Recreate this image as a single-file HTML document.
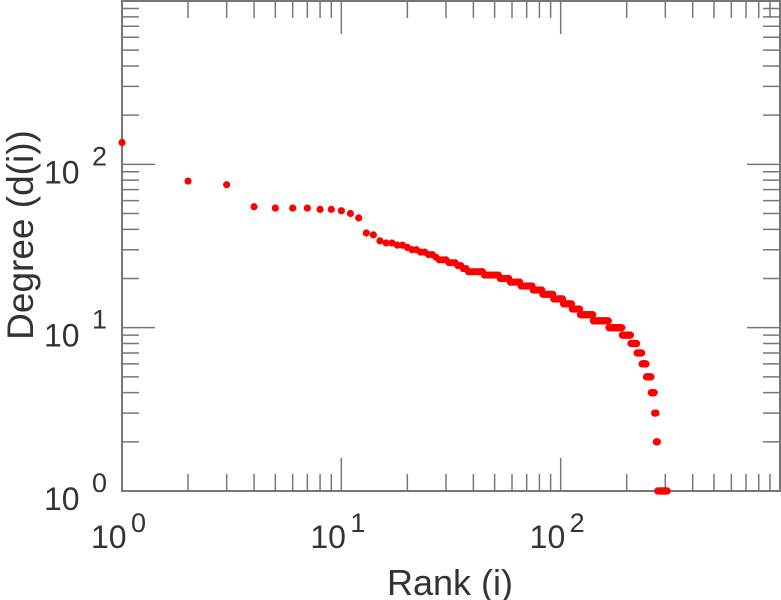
<!DOCTYPE html>
<html><head><meta charset="utf-8"><style>
html,body{margin:0;padding:0;background:#fff;}
svg{display:block;font-family:"Liberation Sans",sans-serif;}
</style></head><body>
<svg id="chart" width="781" height="600" viewBox="0 0 781 600" xmlns="http://www.w3.org/2000/svg">
<g id="axes"></g>
<g id="points"></g>
<text x="450" y="595" font-size="36" fill="#333" text-anchor="middle">Rank (i)</text>
<text transform="translate(33,235) rotate(-90)" font-size="37" fill="#333" text-anchor="middle">Degree (d(i))</text>
</svg>
<script>
// top-ranked node degrees (individual)
const topDegrees = [136,79,75,55,54,54,54,53,53,52,50,47,38,37];
// remaining degree values and how many nodes share each
const degreeValues = [34,33,32,31,30,29,28,27,26,25,24,23,22,21,20,19,18,17,16,15,14,13,12,11,10,9,8,7,6,5,4,3,2,1];
const degreeCounts = [1,2,2,1,2,2,2,1,3,3,2,2,7,8,6,7,9,8,10,10,10,10,18,25,25,18,14,12,11,13,9,5,4,30];
const xDecades = [0,1,2];
const yDecades = [0,1,2];

const NS="http://www.w3.org/2000/svg";
const X0=122,X1=780,Y0=491,Y1=1;
const xMin=0,xMax=3,yMin=0,yMax=3;
function xs(v){return X0+(Math.log10(v)-xMin)/(xMax-xMin)*(X1-X0);}
function ys(v){return Y0-(Math.log10(v)-yMin)/(yMax-yMin)*(Y0-Y1);}
function mk(tag,attrs,parent){const e=document.createElementNS(NS,tag);for(const k in attrs)e.setAttribute(k,attrs[k]);parent.appendChild(e);return e;}

const axes=document.getElementById('axes');
const frame=mk('rect',{x:X0,y:Y1,width:X1-X0,height:Y0-Y1,fill:'none',stroke:'#777','stroke-width':2},axes);


const tc='#777';
for(let d=0;d<3;d++){
  for(let m=1;m<10;m++){
    const v=m*Math.pow(10,d);
    const L=(m===1)?33:17;
    const x=xs(v), y=ys(v);
    if(m===1&&d===0){}else{
      const t1=mk('line',{x1:x,x2:x,y1:Y0,y2:Y0-L,stroke:tc,'stroke-width':1.5},axes);
      
      
      const t2=mk('line',{x1:x,x2:x,y1:Y1,y2:Y1+L,stroke:tc,'stroke-width':1.5},axes);
      
      
      const t3=mk('line',{x1:X0,x2:X0+L,y1:y,y2:y,stroke:tc,'stroke-width':1.5},axes);
      
      
      const t4=mk('line',{x1:X1,x2:X1-L,y1:y,y2:y,stroke:tc,'stroke-width':1.5},axes);
      
      
    }
  }
}
xDecades.forEach(d=>{
  const x=xs(Math.pow(10,d));
  const t=mk('text',{x:x-31,y:548,'font-size':32,fill:'#333'},axes);
  
  
  t.textContent='10';
  const s=mk('text',{x:x+9,y:532,'font-size':27,fill:'#333'},axes);
  
  
  s.textContent=String(d);
});
yDecades.forEach(d=>{
  const y=ys(Math.pow(10,d));
  const t=mk('text',{x:44,y:y+19,'font-size':32,fill:'#333'},axes);
  
  
  t.textContent='10';
  const s=mk('text',{x:92,y:y+1,'font-size':27,fill:'#333'},axes);
  
  
  s.textContent=String(d);
});

const pts=document.getElementById('points');
const degrees=topDegrees.slice();
degreeValues.forEach((v,i)=>{for(let k=0;k<degreeCounts[i];k++)degrees.push(v);});
degrees.forEach((d,i)=>{
  const c=mk('circle',{cx:xs(i+1),cy:ys(d),r:3.6,fill:'#ff0000'},pts);
  
  
});
</script>
</body></html>
